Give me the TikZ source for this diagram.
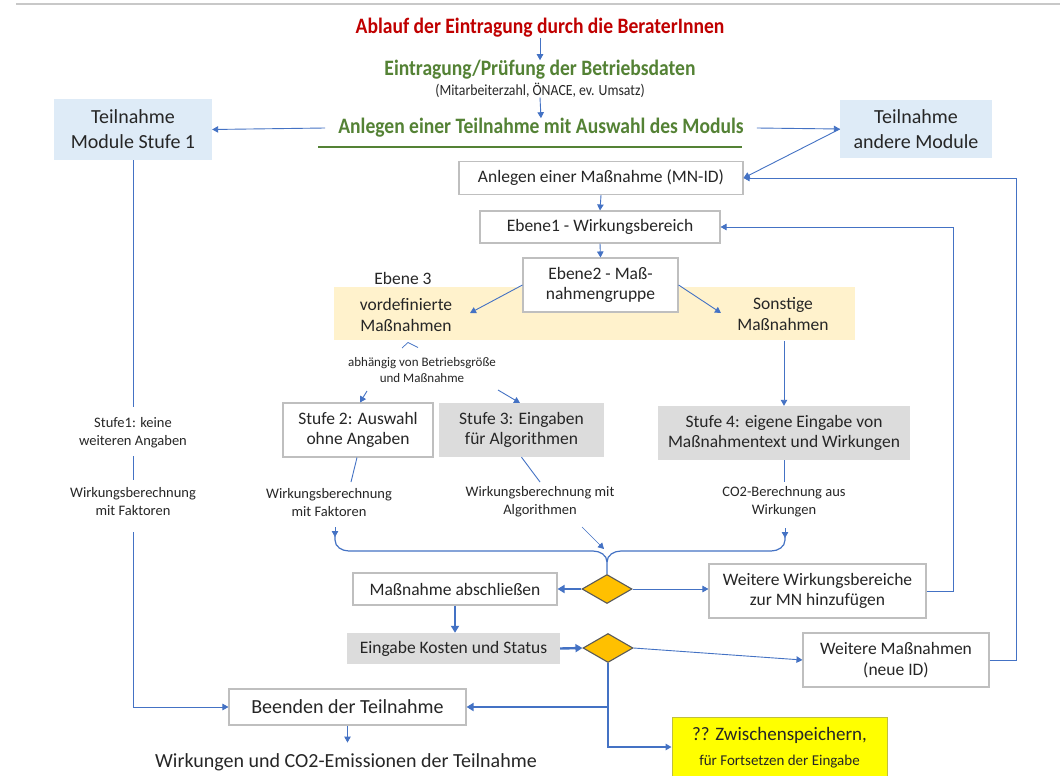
\documentclass[tikz,border=0pt]{standalone}
\usepackage{fontspec}
\setmainfont{Carlito}
\newfontfamily\headfont[FakeStretch=0.89]{Carlito}
\usetikzlibrary{arrows.meta,shapes.geometric}
\definecolor{blu}{HTML}{4472C4}
\definecolor{bordergray}{HTML}{BFBFBF}
\definecolor{greyfill}{HTML}{DCDCDC}
\definecolor{bluefill}{HTML}{DEEBF7}
\definecolor{bandfill}{HTML}{FFF2CC}
\definecolor{orange1}{HTML}{FFC000}
\definecolor{diaborder}{HTML}{595959}
\definecolor{yellow1}{HTML}{FFFF00}
\definecolor{yellowborder}{HTML}{BFBF3F}
\definecolor{red1}{HTML}{C00000}
\definecolor{green1}{HTML}{548235}
\definecolor{txt}{HTML}{262626}
\definecolor{topline}{HTML}{C8C8C8}
\newcommand\fs[2]{\fontsize{#1}{#2}\selectfont}
\begin{document}
\begin{tikzpicture}[x=1pt,y=-1pt,
  box/.style={draw=bordergray,line width=1.1pt,fill=white,inner sep=0pt,align=center,text=txt,font=\fs{17.5}{20.5}},
  greybox/.style={fill=greyfill,inner sep=0pt,align=center,text=txt,font=\fs{17.5}{20.5}},
  bluebox/.style={fill=bluefill,inner sep=0pt,align=center,text=txt,font=\fs{20}{25}},
  lbl/.style={inner sep=0pt,align=center,text=txt,font=\fs{14.5}{18}},
  head/.style={inner sep=0pt,font=\headfont\bfseries\fs{22}{26}},
  conn/.style={draw=blu,line width=0.9pt},
  arr/.style={conn,-{Triangle[length=6pt,width=6.5pt]}},
  thk/.style={draw=blu,line width=2.4pt},
  thkarr/.style={thk,-{Triangle[length=7pt,width=8pt]}},
  dia/.style={diamond,draw=diaborder,line width=1.1pt,fill=orange1,minimum width=50pt,minimum height=29pt,inner sep=0pt}
]
\fill[white] (0,0) rectangle (1060,776);
\useasboundingbox (0,0) rectangle (1060,776);
\draw[topline,line width=1.2pt] (16,4) -- (1060,4);

% header
\node[head,text=red1] (title) at (540,28) {Ablauf der Eintragung durch die BeraterInnen};
\node[head,text=green1] (etr) at (540,70) {Eintragung/Prüfung der Betriebsdaten};
\node[inner sep=0pt,font=\headfont\fs{15.5}{18},text=txt] (sub) at (540,90) {(Mitarbeiterzahl, ÖNACE, ev. Umsatz)};
\node[head,text=green1,inner xsep=13pt] (anl) at (541,128) {Anlegen einer Teilnahme mit Auswahl des Moduls};
\draw[green1,line width=2pt] (318,147) -- (742,147);
\draw[arr] (title.south) -- (etr.north);
\draw[arr] (sub.south) -- (anl.north);

\node[bluebox,minimum width=158pt,minimum height=61pt] (tn1) at (133,129.5) {Teilnahme\\Module Stufe 1};
\node[bluebox,minimum width=152pt,minimum height=58pt] (tn2) at (916,129) {Teilnahme\\andere Module};
\draw[arr] (anl.west) -- (tn1.east);
\draw[arr] (anl.east) -- (tn2.west);

% upper chain
\node[box,minimum width=284pt,minimum height=33pt] (mn) at (601,178) {Anlegen einer Maßnahme (MN-ID)};
\node[box,minimum width=240pt,minimum height=32pt] (eb1) at (600,227) {Ebene1 - Wirkungsbereich};
\fill[bandfill] (334,287) rectangle (855,340);
\node[box,minimum width=155pt,minimum height=54pt] (eb2) at (600.5,285) {Ebene2 - Maß-\\nahmengruppe};
\node[lbl,font=\fs{17.5}{20.5}] (eb3) at (403,278) {Ebene 3};
\node[lbl,font=\fs{17.5}{21}] (vord) at (406,314.5) {vordefinierte\\Maßnahmen};
\node[lbl,font=\fs{17.5}{21}] (sonst) at (783,314.5) {Sonstige\\Maßnahmen};
\draw[arr] (tn2.west) -- (mn.east);
\draw[arr] (mn.south) -- (eb1.north);
\draw[arr] (eb1.south) -- (eb2.north);
\coordinate (vordin) at (470,313);
\coordinate (sonstin) at (721,313);
\draw[arr] (eb2.west) -- (vordin);
\draw[arr] (eb2.east) -- (sonstin);

% stufen
\node[lbl,font=\fs{13}{16}] (abh) at (422,370) {abhängig von Betriebsgröße\\und Maßnahme};
\draw[conn,line width=0.7pt] (402,348) -- (408,342.5) -- (418,347.5);
\node[box,minimum width=150pt,minimum height=54pt] (st2) at (358,430) {Stufe 2: Auswahl\\ohne Angaben};
\node[greybox,minimum width=165pt,minimum height=54pt] (st3) at (521.5,430) {Stufe 3: Eingaben\\für Algorithmen};
\node[greybox,minimum width=252pt,minimum height=54pt] (st4) at (784,433) {Stufe 4: eigene Eingabe von\\Maßnahmentext und Wirkungen};
\coordinate (a1) at (367,391);
\coordinate (a2) at (498,390);
\draw[arr] (a1) -- (360,402.5);
\draw[arr] (a2) -- (520,403);
\coordinate (sonstout) at (784,341);
\draw[arr] (sonstout) -- (st4.north);

\node[lbl] (wb1) at (329,503) {Wirkungsberechnung\\mit Faktoren};
\node[lbl] (wb2) at (540,502) {Wirkungsberechnung mit\\Algorithmen};
\node[lbl] (co2) at (784,502) {CO2-Berechnung aus\\Wirkungen};
\coordinate (w1) at (351,482);
\coordinate (w2) at (540,482);
\draw[conn] (st2.south -| 357,0) -- (w1);
\draw[conn] (st3.south) -- (w2);
\draw[conn] (st4.south) -- (st4.south |- w2);

% left column
\node[lbl] (stufe1) at (133,433) {Stufe1: keine\\weiteren Angaben};
\node[lbl] (wbl) at (133,502) {Wirkungsberechnung\\mit Faktoren};
\coordinate (l1) at (133,407);
\coordinate (l2) at (133,456);
\coordinate (l3) at (133,480);
\coordinate (l4) at (133,532);

% brace
\node[dia] (d1) at (607,589) {};
\draw[arr] (335,527) -- (335,537);
\draw[arr] (785,528) -- (785,538);
\draw[conn,line width=1.2pt] (335,536) -- (335,540) to[out=-90,in=180] (349,551) -- (593,551) to[out=0,in=90] (607,562) -- (d1.north);
\draw[conn,line width=1.2pt] (785,537) -- (785,540) to[out=-90,in=0] (771,551) -- (621,551) to[out=180,in=90] (607,562);
\coordinate (a3) at (582,527);
\draw[arr,line width=0.7pt] (a3) -- (604,549);

% lower part
\node[box,minimum width=204pt,minimum height=32pt] (abs) at (455,589) {Maßnahme abschließen};
\node[box,minimum width=217pt,minimum height=54pt] (ww) at (817.5,591) {Weitere Wirkungsbereiche\\zur MN hinzufügen};
\node[greybox,minimum width=213pt,minimum height=31pt] (kost) at (453.5,648.5) {Eingabe Kosten und Status};
\node[dia] (d2) at (608,648) {};
\node[box,minimum width=186pt,minimum height=54pt] (wm) at (896,660) {Weitere Maßnahmen\\(neue ID)};
\node[box,minimum width=237pt,minimum height=36pt,font=\fs{20}{24}] (been) at (347.5,707) {Beenden der Teilnahme};
\node[fill=yellow1,draw=yellowborder,line width=1pt,minimum width=215pt,minimum height=60pt,align=center,inner sep=0pt,text=txt] (zw) at (779.5,747) {};
\node[inner sep=0pt,font=\fs{19}{22},text=txt] (zw1) at (779.5,735) {?? Zwischenspeichern,};
\node[inner sep=0pt,font=\fs{15}{18},text=txt] (zw2) at (779.5,762) {für Fortsetzen der Eingabe};
\node[inner sep=0pt,font=\fs{20}{24},text=txt] (wirk) at (346,762) {Wirkungen und CO2-Emissionen der Teilnahme};

\draw[conn] (tn1.south) -- (l1);
\draw[conn] (l2) -- (l3);
\draw[arr] (l4) |- (been.west);

\draw[thkarr] (d1.west) -- (abs.east);
\draw[arr] (d1.east) -- (d1.east -| ww.west);
\draw[arr] (ww.east) -- ++(27,0) |- (eb1.east);
\draw[thkarr] (abs.south) -- (abs.south |- kost.north);
\draw[thkarr] (kost.east) -- (d2.west);
\draw[arr] (d2.east) -- (wm.west);
\draw[arr] (wm.east) -- ++(27,0) |- (mn.east);
\draw[thkarr] (d2.south) |- (been.east);
\draw[arr,line width=1.3pt] (d2.south |- been.east) |- (zw.west);
\draw[arr] (been.south) -- ++(0,17);
\end{tikzpicture}
\end{document}
